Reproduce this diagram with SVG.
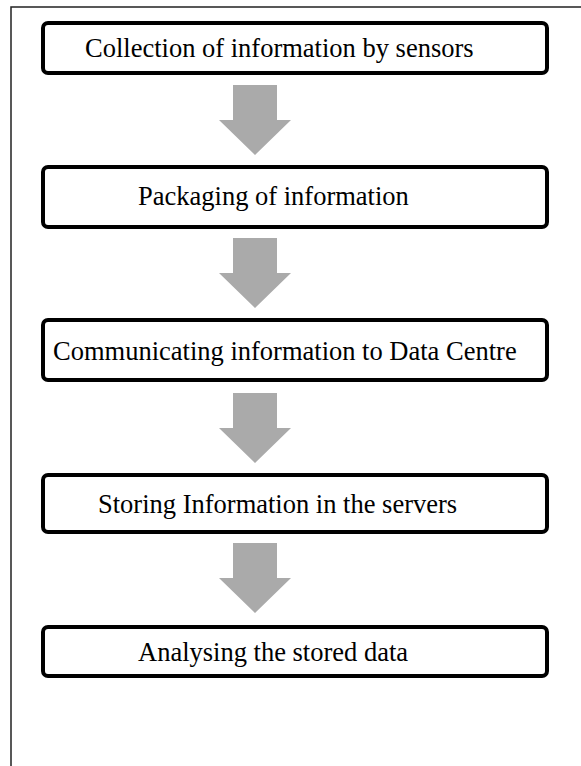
<svg xmlns="http://www.w3.org/2000/svg" width="581" height="766" viewBox="0 0 581 766">
  <style>
    .frame { fill: none; stroke: #222; stroke-width: 1.5; }
    .box { fill: #fff; stroke: #000; stroke-width: 4; }
    .label { font-family: "Liberation Serif", "Times New Roman", serif; font-size: 26.5px; fill: #000; }
    .flow { fill: #aaaaaa; stroke: none; }
  </style>
  <defs>
    <!-- block arrow, origin at the top centre of the shaft -->
    <path id="blockArrow" d="M-22,0 H22 V35 H36 L0,70 L-36,35 H-22 Z"/>
  </defs>
  <rect width="581" height="766" fill="#fff"/>
  <path class="frame" d="M11,766 V7 H581"/>

  <g id="connectors">
    <use href="#blockArrow" class="flow" x="255" y="85"/>
    <use href="#blockArrow" class="flow" x="255" y="238"/>
    <use href="#blockArrow" class="flow" x="255" y="393"/>
    <use href="#blockArrow" class="flow" x="255" y="543"/>
  </g>

  <g id="collect">
    <rect class="box" x="43" y="23" width="504" height="50" rx="5"/>
    <text class="label" x="85" y="57">Collection of information by sensors</text>
  </g>
  <g id="package">
    <rect class="box" x="43" y="167" width="504" height="60" rx="5"/>
    <text class="label" x="138" y="205">Packaging of information</text>
  </g>
  <g id="communicate">
    <rect class="box" x="43" y="320" width="504" height="60" rx="5"/>
    <text class="label" x="53" y="360">Communicating information to Data Centre</text>
  </g>
  <g id="store">
    <rect class="box" x="43" y="475" width="504" height="57" rx="5"/>
    <text class="label" x="98" y="513">Storing Information in the servers</text>
  </g>
  <g id="analyse">
    <rect class="box" x="43" y="627" width="504" height="49" rx="5"/>
    <text class="label" x="138" y="661">Analysing the stored data</text>
  </g>
</svg>
